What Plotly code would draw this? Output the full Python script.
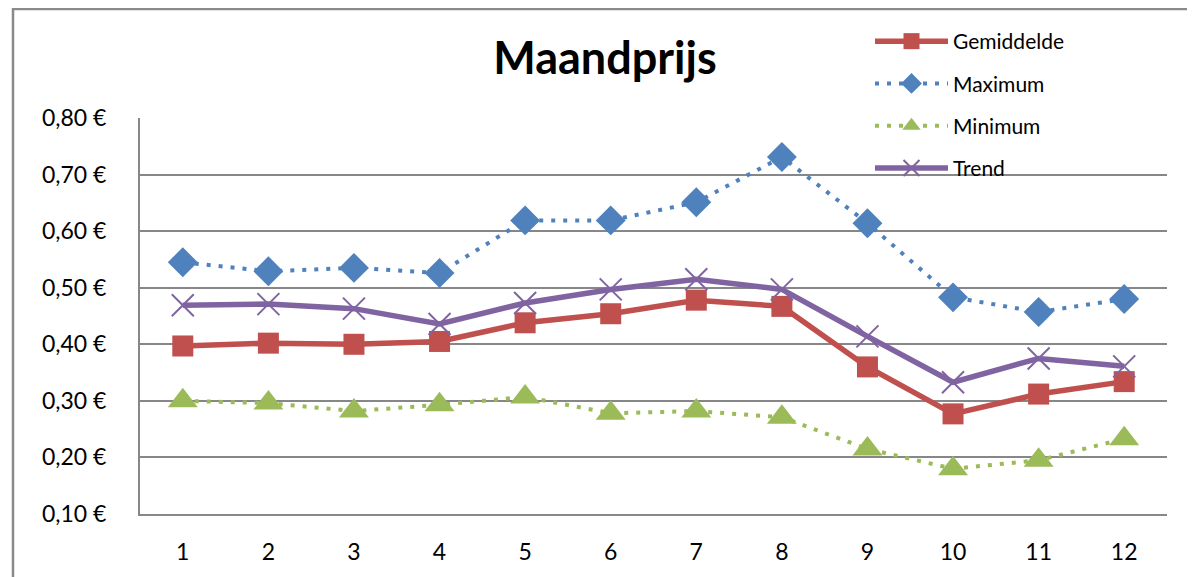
import plotly.graph_objects as go

months = [1, 2, 3, 4, 5, 6, 7, 8, 9, 10, 11, 12]
gemiddelde = [0.397, 0.402, 0.400, 0.405, 0.438, 0.454, 0.478, 0.467, 0.360, 0.277, 0.312, 0.334]
maximum = [0.545, 0.529, 0.535, 0.526, 0.619, 0.619, 0.651, 0.731, 0.614, 0.483, 0.457, 0.480]
minimum = [0.300, 0.296, 0.282, 0.293, 0.307, 0.278, 0.282, 0.271, 0.215, 0.180, 0.195, 0.233]
trend = [0.469, 0.471, 0.463, 0.436, 0.473, 0.497, 0.515, 0.497, 0.414, 0.333, 0.375, 0.361]
y_ticks = [0.10, 0.20, 0.30, 0.40, 0.50, 0.60, 0.70, 0.80]

RED = "#C0504D"
BLUE = "#4F81BD"
GREEN = "#9BBB59"
PURPLE = "#8064A2"
GRID = "#878787"
FONT = "Lato, 'Open Sans', sans-serif"

# page is offset by the 8px body margin
W, H = 1187, 569
L, T, PW, PH = 132, 110, 1027, 396

fig = go.Figure()
fig.add_trace(go.Scatter(
    x=months, y=gemiddelde, name="Gemiddelde", mode="lines+markers", legendgroup="a",
    line=dict(color=RED, width=5.5),
    marker=dict(symbol="square", size=21, color=RED, line=dict(width=0)),
))
fig.add_trace(go.Scatter(
    x=months, y=maximum, name="Maximum", mode="lines+markers", legendgroup="b",
    line=dict(color=BLUE, width=4, dash="4px,8px"),
    marker=dict(symbol="diamond", size=23, color=BLUE, line=dict(width=0)),
))
fig.add_trace(go.Scatter(
    x=months, y=minimum, name="Minimum", mode="lines+markers", legendgroup="c",
    line=dict(color=GREEN, width=4, dash="4px,8px"),
    marker=dict(symbol="triangle-up", size=26, color=GREEN, line=dict(width=0)),
))
fig.add_trace(go.Scatter(
    x=months, y=trend, name="Trend", mode="lines+markers", legendgroup="d",
    line=dict(color=PURPLE, width=5.5),
    marker=dict(symbol="x-thin-open", size=22, color=PURPLE, line=dict(width=2, color=PURPLE)),
))

fig.update_layout(
    width=W, height=H,
    margin=dict(l=L, r=W - L - PW, t=T, b=H - T - PH),
    paper_bgcolor="white", plot_bgcolor="white",
    font=dict(family=FONT, size=23, color="black"),
    title=dict(text="<b>Maandprijs</b>", x=(597 - L) / PW, xref="paper", xanchor="center",
               y=1 - 50 / H, yref="container", yanchor="middle",
               font=dict(size=45, family=FONT, color="black")),
    showlegend=True,
    legend=dict(x=(862 - L) / PW, y=1 + (T - 13) / PH, xanchor="left", yanchor="top",
                bgcolor="rgba(0,0,0,0)", font=dict(size=21, family=FONT),
                tracegroupgap=12, itemwidth=73),
    xaxis=dict(
        tickmode="array", tickvals=months, ticktext=[str(m) for m in months],
        range=[0.5, 12.5], showgrid=False, showline=True, linecolor=GRID, linewidth=2,
        zeroline=False, ticks="", ticklabelstandoff=16, fixedrange=True,
    ),
    yaxis=dict(
        tickmode="array", tickvals=y_ticks,
        ticktext=[f"{v:.2f}".replace(".", ",") + " €" for v in y_ticks],
        range=[0.10, 0.80], showgrid=True, gridcolor=GRID, gridwidth=2,
        showline=True, linecolor=GRID, linewidth=2, zeroline=False,
        ticks="", ticklabelstandoff=27, fixedrange=True,
    ),
    shapes=[
        dict(type="rect", xref="paper", yref="paper",
             x0=(5 - L) / PW, x1=1.2, y0=-0.5, y1=1 + (T - 1) / PH,
             line=dict(color="#8A8A8A", width=2.5), fillcolor="rgba(0,0,0,0)", layer="below"),
    ],
)

fig.write_html("out.html")
